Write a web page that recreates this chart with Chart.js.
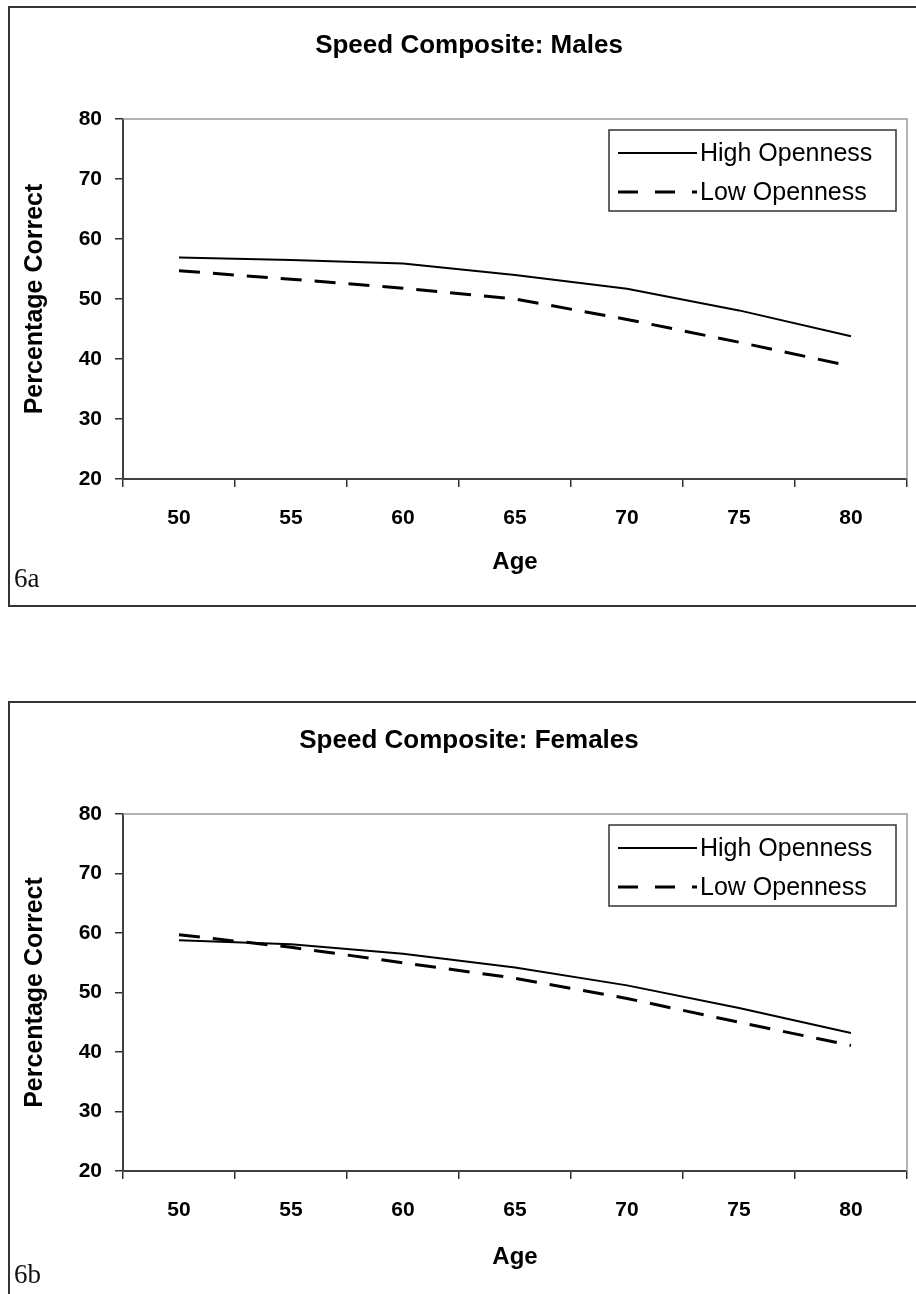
<!DOCTYPE html>
<html>
<head>
<meta charset="utf-8">
<title>Speed Composite</title>
<script src="https://cdn.jsdelivr.net/npm/chart.js@4.4.1/dist/chart.umd.min.js"></script>
<style>
  html, body { margin: 0; padding: 0; background: #fff; overflow: hidden; }
  body { width: 916px; height: 1294px; position: relative; }
  .frame { position: absolute; left: 8px; width: 940px; border: 2px solid #333; box-sizing: border-box; }
  .panel { position: absolute; left: 0; }
  .tag { position: absolute; left: 14px; font: 27px/27px "Liberation Serif", "Times New Roman", serif; color: #111; }
</style>
</head>
<body>
<div class="frame" style="top:6px;height:601px"></div>
<div class="frame" style="top:701px;height:640px"></div>
<canvas id="males" class="panel" style="top:0px" width="938" height="620"></canvas>
<canvas id="females" class="panel" style="top:695px" width="938" height="620"></canvas>
<div class="tag" style="top:565px">6a</div>
<div class="tag" style="top:1261px">6b</div>

<script>
// values
const ages = ['50', '55', '60', '65', '70', '75', '80'];
const maleHigh = [56.9, 56.5, 55.9, 54.0, 51.7, 48.1, 43.8];
const maleLow = [54.7, 53.3, 51.8, 50.0, 46.6, 42.8, 38.8];
const femaleHigh = [58.8, 58.1, 56.5, 54.2, 51.2, 47.4, 43.2];
const femaleLow = [59.7, 57.6, 55.0, 52.4, 49.0, 45.0, 41.1];
const yMin = 20;
const yMax = 80;
const yStep = 10;

Chart.defaults.font.family = '"Liberation Sans", Arial, sans-serif';
Chart.defaults.color = '#000';

// gray frame on the top and right of the plot area
const plotFrame = {
    id: 'plotFrame',
    beforeDatasetsDraw(chart) {
        const { ctx, chartArea: { left, top, right, bottom } } = chart;
        ctx.save();
        ctx.strokeStyle = '#9a9a9a';
        ctx.lineWidth = 1.5;
        ctx.beginPath();
        ctx.moveTo(left, top);
        ctx.lineTo(right, top);
        ctx.lineTo(right, bottom);
        ctx.stroke();
        ctx.restore();
    }
};

// boxed legend inside the plot, top right
const boxLegend = {
    id: 'boxLegend',
    afterDatasetsDraw(chart) {
        const { ctx, chartArea } = chart;
        const w = 287, h = 81;
        const x = chartArea.right - 11 - w;
        const y = chartArea.top + 11;
        ctx.save();
        ctx.fillStyle = '#fff';
        ctx.fillRect(x, y, w, h);
        ctx.strokeStyle = '#333';
        ctx.lineWidth = 1.5;
        ctx.strokeRect(x, y, w, h);
        ctx.font = '25px "Liberation Sans", Arial, sans-serif';
        ctx.textBaseline = 'middle';
        chart.data.datasets.forEach((ds, i) => {
            const cy = y + 23 + i * 39;
            ctx.setLineDash(ds.borderDash ? [20, 17] : []);
            ctx.lineWidth = ds.borderWidth;
            ctx.strokeStyle = ds.borderColor;
            ctx.beginPath();
            ctx.moveTo(x + 9, cy);
            ctx.lineTo(x + 88, cy);
            ctx.stroke();
            ctx.setLineDash([]);
            ctx.fillStyle = '#000';
            ctx.fillText(ds.label, x + 91, cy + 1);
        });
        ctx.restore();
    }
};

function drawPanel(id, title, high, low, plotBottom, ageCenter) {
    const canvas = document.getElementById(id);
    const canvasH = canvas.height;
    return new Chart(canvas.getContext('2d'), {
        type: 'line',
        data: {
            labels: ages,
            datasets: [
                {
                    label: 'High Openness',
                    data: high,
                    borderColor: '#000',
                    borderWidth: 2,
                    pointRadius: 0,
                    tension: 0,
                    fill: false
                },
                {
                    label: 'Low Openness',
                    data: low,
                    borderColor: '#000',
                    borderWidth: 3,
                    borderDash: [21, 13],
                    pointRadius: 0,
                    tension: 0,
                    fill: false
                }
            ]
        },
        options: {
            responsive: false,
            animation: false,
            // left padding shifts the title centre to the frame centre
            layout: { padding: { left: 31, right: 31, top: 0, bottom: 0 } },
            plugins: {
                legend: { display: false },
                tooltip: { enabled: false },
                title: {
                    display: true,
                    text: title,
                    color: '#000',
                    font: { size: 26, weight: 'bold' },
                    padding: { top: 30, bottom: 57.8 }
                }
            },
            scales: {
                x: {
                    offset: true,
                    grid: {
                        offset: true,
                        drawOnChartArea: false,
                        tickLength: 8,
                        color: '#333',
                        lineWidth: 1.5
                    },
                    border: { display: true, color: '#404040', width: 2 },
                    ticks: {
                        font: { size: 21, weight: 'bold' },
                        color: '#000',
                        padding: 18.4,
                        maxRotation: 0,
                        autoSkip: false
                    },
                    title: {
                        display: true,
                        text: 'Age',
                        color: '#000',
                        font: { size: 24, weight: 'bold' },
                        padding: { top: 0, bottom: canvasH - ageCenter - 14.4 }
                    },
                    afterFit: (scale) => { scale.height = canvasH - plotBottom; }
                },
                y: {
                    min: yMin,
                    max: yMax,
                    grid: {
                        drawOnChartArea: false,
                        tickLength: 8,
                        color: '#333',
                        lineWidth: 1.5
                    },
                    border: { display: true, color: '#404040', width: 2 },
                    ticks: {
                        stepSize: yStep,
                        font: { size: 21, weight: 'bold' },
                        color: '#000',
                        padding: 13
                    },
                    title: {
                        display: true,
                        text: 'Percentage Correct',
                        color: '#000',
                        font: { size: 25, weight: 'bold' },
                        padding: { top: 35 - 31 - 15, bottom: 0 }
                    },
                    afterFit: (scale) => { scale.width = 123 - 31; }
                }
            }
        },
        plugins: [plotFrame, boxLegend]
    });
}

drawPanel('males', 'Speed Composite: Males', maleHigh, maleLow, 479, 562);
drawPanel('females', 'Speed Composite: Females', femaleHigh, femaleLow, 476, 562);
</script>
</body>
</html>
